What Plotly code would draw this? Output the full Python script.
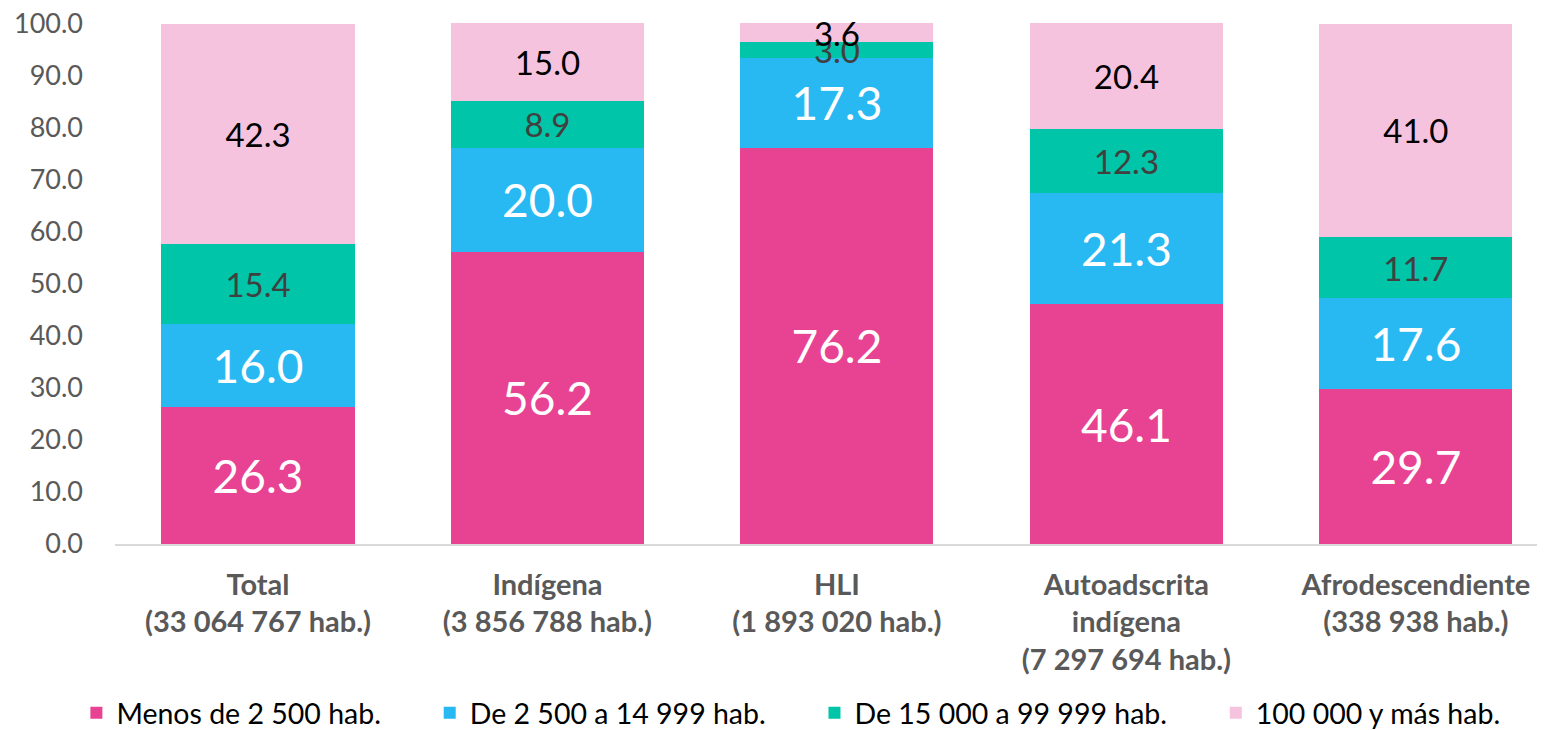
import plotly.graph_objects as go

categories = [
    "Total<br>(33 064 767 hab.)",
    "Indígena<br>(3 856 788 hab.)",
    "HLI<br>(1 893 020 hab.)",
    "Autoadscrita<br>indígena<br>(7 297 694 hab.)",
    "Afrodescendiente<br>(338 938 hab.)",
]
series_names = [
    "Menos de 2 500 hab.",
    "De 2 500 a 14 999 hab.",
    "De 15 000 a 99 999 hab.",
    "100 000 y más hab.",
]
menos_2500 = [26.3, 56.2, 76.2, 46.1, 29.7]
de_2500_14999 = [16.0, 20.0, 17.3, 21.3, 17.6]
de_15000_99999 = [15.4, 8.9, 3.0, 12.3, 11.7]
mas_100000 = [42.3, 15.0, 3.6, 20.4, 41.0]
y_ticks = [0, 10, 20, 30, 40, 50, 60, 70, 80, 90, 100]

series_values = [menos_2500, de_2500_14999, de_15000_99999, mas_100000]
colors = ["#E84393", "#29B9F2", "#00C5A8", "#F6C3DE"]
text_colors = ["#FFFFFF", "#FFFFFF", "#404040", "#000000"]
text_sizes = [46, 46, 33, 33]
legend_pad = [6, 6, 6, 0]

FONT = "Lato, Calibri, sans-serif"

fig = go.Figure()
for name, vals, col, tcol, tsz, pad in zip(series_names, series_values, colors,
                                          text_colors, text_sizes, legend_pad):
    fig.add_trace(go.Bar(
        name=name + "\u00a0" * pad,
        x=categories,
        y=vals,
        marker=dict(color=col, line=dict(width=0)),
        width=0.667,
        text=[f"{v:.1f}" for v in vals],
        textposition="inside",
        insidetextanchor="middle",
        textangle=0,
        constraintext="none",
        insidetextfont=dict(family=FONT, size=tsz, color=tcol),
        cliponaxis=False,
        hoverinfo="skip",
    ))

fig.update_layout(
    barmode="stack",
    width=1537,
    height=722,
    margin=dict(l=107, r=0, t=15, b=186, autoexpand=False),
    paper_bgcolor="white",
    plot_bgcolor="white",
    font=dict(family=FONT, color="#595959"),
    showlegend=True,
    legend=dict(
        orientation="h",
        x=-0.027,
        xanchor="left",
        y=-0.325,
        yanchor="middle",
        font=dict(family=FONT, size=28.5, color="#000000"),
        traceorder="normal",
        itemwidth=30,
    ),
    xaxis=dict(
        type="category",
        range=[-0.494, 4.446],
        showgrid=False,
        showline=True,
        linecolor="#D9D9D9",
        linewidth=1.5,
        ticks="",
        tickfont=dict(family=FONT, size=29, color="#595959", weight="bold"),
        ticklabelstandoff=14,
        zeroline=False,
        automargin=False,
    ),
    yaxis=dict(
        range=[0, 100.15],
        tickvals=y_ticks,
        ticktext=[f"{v:.1f}" for v in y_ticks],
        showgrid=False,
        showline=False,
        zeroline=False,
        ticks="",
        tickfont=dict(family=FONT, size=27, color="#595959"),
        ticklabelstandoff=31,
        ticklabeloverflow="allow",
        automargin=False,
    ),
)

fig.write_html("out.html")
